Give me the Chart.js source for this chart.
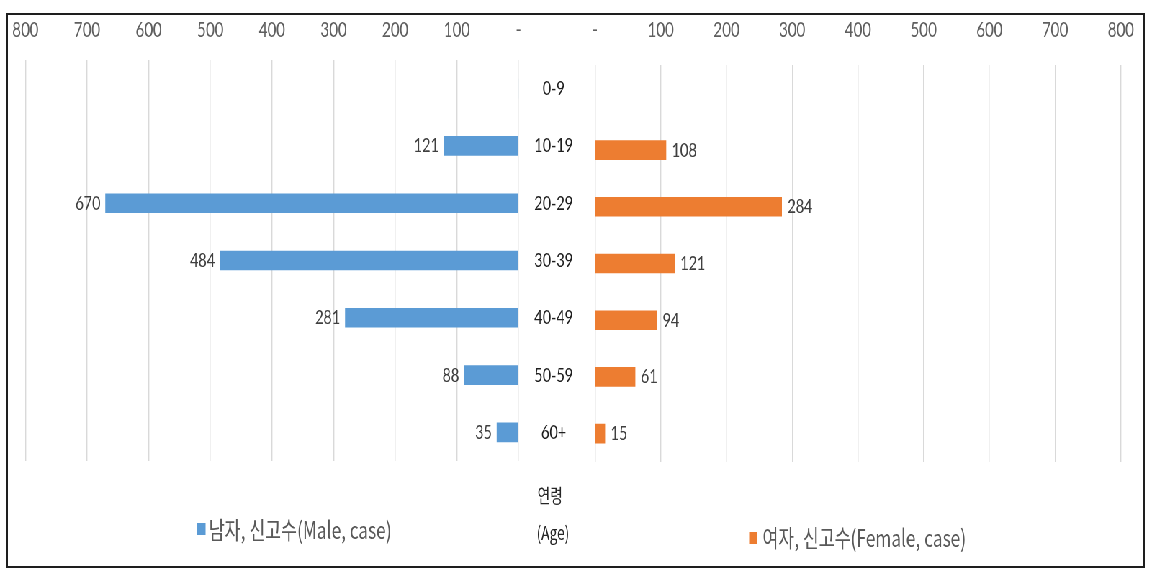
<!DOCTYPE html>
<html>
<head>
<meta charset="utf-8">
<script src="https://cdn.jsdelivr.net/npm/chart.js@4.4.1/dist/chart.umd.min.js"></script>
<style>
  html, body { margin:0; padding:0; background:#fff; }
  body { width:1150px; height:572px; position:relative; overflow:hidden; }
  #frame { position:absolute; left:6px; top:13px; width:1139px; height:555px; border:2px solid #1e1e1e; box-sizing:border-box; }
  #wrap { position:absolute; left:0; top:0; width:1597px; height:572px; transform:scaleX(0.72); transform-origin:0 0; }
  #wrap canvas { position:absolute; left:0; top:0; }
</style>
</head>
<body>
<div id="frame"></div>
<div id="wrap">
  <canvas id="maleChart" width="1597" height="572"></canvas>
  <canvas id="femaleChart" width="1597" height="572"></canvas>
</div>
<script>
// ---- data ----
const ageGroups   = ['0-9', '10-19', '20-29', '30-39', '40-49', '50-59', '60+'];
const maleCases   = [0, 121, 670, 484, 281, 88, 35];
const femaleCases = [0, 108, 284, 121, 94, 61, 15];
const axisMax = 800;
const axisStep = 100;
const zeroTickLabel = '-';
const maleLabel = '남자, 신고수(Male, case)';
const femaleLabel = '여자, 신고수(Female, case)';
const axisTitleLines = ['연령', '(Age)'];

// ---- styles ----
const MALE_COLOR = '#5b9bd5';
const FEMALE_COLOR = '#ed7d31';
const NUM_FONT = 'Lato, "Noto Sans", sans-serif';
const KR_FONT = '"Noto Sans CJK KR", "Noto Sans", sans-serif';
const GRID = '#d9d9d9';

const tickFmt = v => (v === 0 ? zeroTickLabel : String(v));

const valueLabels = {
  id: 'valueLabels',
  afterDatasetsDraw(chart, args, o) {
    const ctx = chart.ctx;
    const meta = chart.getDatasetMeta(0);
    const data = chart.data.datasets[0].data;
    ctx.save();
    ctx.font = o.font;
    ctx.fillStyle = o.color;
    ctx.textBaseline = 'middle';
    meta.data.forEach((bar, i) => {
      const v = data[i];
      if (!v) return;
      if (o.side === 'left') {
        ctx.textAlign = 'right';
        ctx.fillText(String(v), bar.x - o.gap, bar.y + o.dy);
      } else {
        ctx.textAlign = 'left';
        ctx.fillText(String(v), bar.x + o.gap, bar.y + o.dy);
      }
    });
    ctx.restore();
  }
};

const customLegend = {
  id: 'customLegend',
  afterDraw(chart, args, o) {
    const ctx = chart.ctx;
    const ds = chart.data.datasets[0];
    ctx.save();
    ctx.fillStyle = ds.backgroundColor;
    ctx.fillRect(o.boxX, o.boxY, o.boxW, o.boxH);
    ctx.font = o.font;
    ctx.fillStyle = o.color;
    ctx.textAlign = 'left';
    ctx.textBaseline = 'middle';
    ctx.fillText(ds.label, o.textX, o.textY);
    if (o.title) {
      ctx.textAlign = 'center';
      ctx.font = o.titleFont;
      ctx.fillStyle = o.titleColor;
      o.title.forEach((t, i) => ctx.fillText(t, o.titleX[i], o.titleY[i]));
    }
    ctx.restore();
  }
};

new Chart(document.getElementById('maleChart'), {
  type: 'bar',
  data: {
    labels: ageGroups,
    datasets: [{ label: maleLabel, data: maleCases, backgroundColor: MALE_COLOR, borderWidth: 0, barThickness: 19 }]
  },
  plugins: [valueLabels, customLegend],
  options: {
    indexAxis: 'y',
    responsive: false,
    animation: false,
    layout: { padding: { left: 34.7, right: 770.6, top: 0, bottom: 111 } },
    plugins: {
      legend: { display: false },
      tooltip: { enabled: false },
      valueLabels: { side: 'left', gap: 7, dy: 0, font: '20px ' + NUM_FONT, color: '#404040' },
      customLegend: {
        boxX: 274, boxY: 523, boxW: 11.5, boxH: 12,
        textX: 290, textY: 530, font: '24px ' + KR_FONT, color: '#595959',
        title: axisTitleLines, titleFont: '19px ' + KR_FONT, titleColor: '#262626',
        titleX: [764, 768], titleY: [496, 533]
      }
    },
    scales: {
      x: {
        position: 'top', reverse: true, min: 0, max: axisMax,
        afterFit(s) { s.height = 60; },
        grid: { color: GRID, lineWidth: 1.4, drawTicks: false },
        border: { display: false },
        ticks: { stepSize: axisStep, padding: 17, color: '#5f5f5f', font: { family: NUM_FONT, size: 21 }, callback: tickFmt, maxRotation: 0 }
      },
      y: {
        position: 'right',
        afterFit(s) { s.width = 106.3; },
        grid: { display: false, drawTicks: false },
        border: { display: false },
        ticks: { crossAlign: 'center', padding: 22, color: '#1f1f1f', font: { family: NUM_FONT, size: 20 } }
      }
    }
  }
});

new Chart(document.getElementById('femaleChart'), {
  type: 'bar',
  data: {
    labels: ageGroups,
    datasets: [{ label: femaleLabel, data: femaleCases, backgroundColor: FEMALE_COLOR, borderWidth: 0, barThickness: 19 }]
  },
  plugins: [valueLabels, customLegend],
  options: {
    indexAxis: 'y',
    responsive: false,
    animation: false,
    layout: { padding: { left: 826.4, right: 31, top: 0, bottom: 110 } },
    plugins: {
      legend: { display: false },
      tooltip: { enabled: false },
      valueLabels: { side: 'right', gap: 8, dy: 0, font: '20px ' + NUM_FONT, color: '#404040' },
      customLegend: {
        boxX: 1040.5, boxY: 532, boxW: 10.5, boxH: 12,
        textX: 1059, textY: 538, font: '24px ' + KR_FONT, color: '#595959'
      }
    },
    scales: {
      x: {
        position: 'top', min: 0, max: axisMax,
        afterFit(s) { s.height = 65; },
        grid: { color: GRID, lineWidth: 1.4, drawTicks: false },
        border: { display: false },
        ticks: { stepSize: axisStep, padding: 22, color: '#5f5f5f', font: { family: NUM_FONT, size: 21 }, callback: tickFmt, maxRotation: 0 }
      },
      y: { display: false }
    }
  }
});
</script>
</body>
</html>
